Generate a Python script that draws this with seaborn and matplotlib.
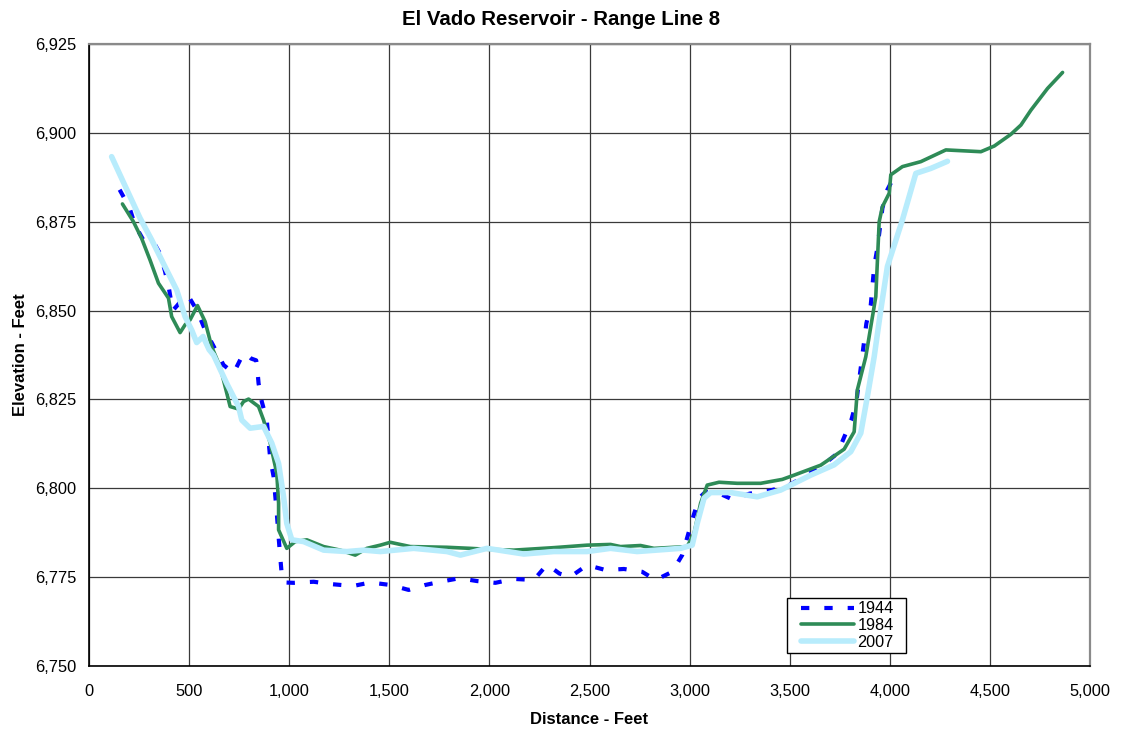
import matplotlib
matplotlib.use("Agg")
import matplotlib.pyplot as plt
import seaborn as sns
import pandas as pd
from matplotlib.ticker import MultipleLocator, FuncFormatter
from matplotlib.patches import Rectangle

# ---------------- data ----------------
x_1944 = [153, 202, 230, 270, 320, 355, 380, 400, 418, 442, 470, 497, 540, 580, 622, 672, 722, 763, 780, 810, 835, 840, 847, 863, 888, 905, 922, 938, 947, 955, 963, 975, 1022, 1122, 1218, 1318, 1405, 1505, 1597, 1680, 1755, 1850, 1938, 2030, 2122, 2222, 2272, 2290, 2350, 2405, 2488, 2580, 2672, 2763, 2830, 2913, 2963, 2992, 3018, 3047, 3080, 3150, 3213, 3300, 3397, 3488, 3580, 3663, 3738, 3808, 3833, 3858, 3883, 3905, 3922, 3938, 3963, 3988, 4030]
y_1944 = [6884, 6879, 6874, 6870, 6869.5, 6866, 6861, 6856, 6850, 6851.5, 6853.5, 6854, 6850, 6844.5, 6840, 6834.7, 6832.4, 6837, 6838, 6836.5, 6836, 6834, 6829.5, 6824.4, 6819.2, 6808.4, 6803.3, 6793, 6786.4, 6780.8, 6775.6, 6773.5, 6773.4, 6773.7, 6773, 6772.5, 6773.5, 6772.8, 6771.4, 6772.8, 6773.7, 6774.7, 6773.9, 6773.4, 6774.5, 6774.2, 6777.5, 6778.5, 6776, 6775.1, 6778.4, 6777, 6777.3, 6776.5, 6774.2, 6776.5, 6781.2, 6786.9, 6792, 6797.2, 6799, 6798.5, 6796.9, 6798.5, 6799.3, 6800.6, 6803.5, 6806.4, 6809.8, 6819.2, 6824.4, 6835.2, 6846.4, 6851.6, 6862.4, 6867.6, 6878.8, 6884, 6888.6]

x_1984 = [167, 222, 263, 305, 347, 397, 413, 455, 480, 505, 542, 580, 613, 655, 705, 747, 772, 797, 847, 872, 905, 938, 947, 947, 988, 1030, 1088, 1172, 1255, 1330, 1388, 1455, 1505, 1605, 1788, 1905, 2000, 2122, 2322, 2488, 2605, 2655, 2755, 2822, 2988, 3022, 3055, 3088, 3147, 3238, 3355, 3463, 3522, 3655, 3772, 3822, 3838, 3880, 3930, 3947, 3963, 3997, 4005, 4063, 4155, 4280, 4455, 4522, 4605, 4655, 4705, 4788, 4863]
y_1984 = [6880, 6875, 6870.3, 6864.2, 6857.7, 6853.5, 6848.3, 6843.8, 6846, 6847.4, 6851.4, 6846.9, 6839.8, 6834.2, 6823, 6822.3, 6824.4, 6825.1, 6823, 6819.2, 6812.7, 6804.2, 6795.8, 6788.3, 6783.1, 6785, 6785.5, 6783.6, 6782.6, 6781.2, 6783.1, 6784, 6784.8, 6783.6, 6783.4, 6783.1, 6782.8, 6782.6, 6783.3, 6784, 6784.2, 6783.6, 6783.9, 6783.1, 6783.6, 6787.3, 6795.8, 6800.9, 6801.7, 6801.4, 6801.4, 6802.5, 6803.7, 6806.5, 6811, 6815.9, 6827.7, 6837, 6853.9, 6875, 6879.2, 6883, 6888.2, 6890.5, 6891.9, 6895.2, 6894.7, 6896.3, 6899.6, 6902.2, 6906.4, 6912.5, 6917]

x_2007 = [113, 167, 255, 313, 380, 438, 480, 513, 538, 570, 600, 622, 688, 747, 763, 805, 872, 913, 947, 972, 988, 1013, 1072, 1172, 1288, 1372, 1455, 1622, 1788, 1855, 1988, 2172, 2322, 2488, 2605, 2738, 2955, 3013, 3038, 3072, 3105, 3205, 3338, 3455, 3605, 3722, 3805, 3855, 3888, 3922, 3955, 3988, 4063, 4130, 4205, 4288]
y_2007 = [6893.3, 6886.7, 6876, 6869.9, 6862.3, 6855.8, 6848.3, 6844.5, 6841, 6842.7, 6839, 6837.5, 6829.5, 6823, 6819.2, 6816.9, 6817.4, 6812.7, 6807, 6797.6, 6790.1, 6785.5, 6785, 6782.6, 6782.2, 6782.6, 6782.2, 6783.1, 6782.2, 6781.2, 6783.1, 6781.5, 6782.2, 6782.2, 6783.1, 6782.2, 6783.1, 6784, 6790.1, 6797.2, 6798.8, 6798.8, 6797.6, 6799.5, 6803.7, 6806.6, 6810.3, 6815.5, 6825.8, 6837, 6850.2, 6862.4, 6875.5, 6888.6, 6890, 6892]

series_names = ["1944", "1984", "2007"]
x_ticks = [0, 500, 1000, 1500, 2000, 2500, 3000, 3500, 4000, 4500, 5000]
y_ticks = [6750, 6775, 6800, 6825, 6850, 6875, 6900, 6925]

title = "El Vado Reservoir - Range Line 8"
x_label = "Distance - Feet"
y_label = "Elevation - Feet"

# ---------------- plot ----------------
sns.set_style("white")
plt.rcParams["font.family"] = ["Liberation Sans", "DejaVu Sans"]
plt.rcParams["text.color"] = "black"
plt.rcParams["axes.labelcolor"] = "black"
plt.rcParams["xtick.color"] = "black"
plt.rcParams["ytick.color"] = "black"

fig = plt.figure(figsize=(11.23, 7.31), dpi=100)
ax = fig.add_axes([89 / 1123, 65 / 731, 1001 / 1123, 622 / 731])

df44 = pd.DataFrame({"x": x_1944, "y": y_1944})
df84 = pd.DataFrame({"x": x_1984, "y": y_1984})
df07 = pd.DataFrame({"x": x_2007, "y": y_2007})

sns.lineplot(data=df44, x="x", y="y", ax=ax, sort=False, estimator=None,
             color="#0000FF", linewidth=3.0, label=series_names[0], zorder=3)
ax.lines[-1].set_dashes((2.0, 3.6))
sns.lineplot(data=df84, x="x", y="y", ax=ax, sort=False, estimator=None,
             color="#2E8B57", linewidth=2.6, label=series_names[1], zorder=4)
sns.lineplot(data=df07, x="x", y="y", ax=ax, sort=False, estimator=None,
             color="#B8ECFC", linewidth=4.0, label=series_names[2], zorder=5)

ax.set_xlim(0, 5000)
ax.set_ylim(6750, 6925)
ax.set_xticks(x_ticks)
ax.set_yticks(y_ticks)
ax.xaxis.set_minor_locator(MultipleLocator(100))
ax.yaxis.set_minor_locator(MultipleLocator(5))
fmt = FuncFormatter(lambda v, p: f"{int(round(v)):,}")
ax.xaxis.set_major_formatter(fmt)
ax.yaxis.set_major_formatter(fmt)

ax.grid(True, which="major", color="#3a3a3a", linewidth=0.9)
ax.set_axisbelow(True)

ax.tick_params(axis="both", which="major", direction="out", length=5, width=1,
               labelsize=11.8, colors="black")
ax.tick_params(axis="both", which="minor", direction="in", length=4, width=1,
               colors="black")
ax.tick_params(axis="x", which="major", pad=8)
ax.tick_params(axis="y", which="major", pad=4)

for s in ["left", "bottom"]:
    ax.spines[s].set_color("black")
    ax.spines[s].set_linewidth(1.2)
for s in ["top", "right"]:
    ax.spines[s].set_color("#8a8a8a")
    ax.spines[s].set_linewidth(1.6)

ax.set_title(title, fontsize=14.7, fontweight="bold", pad=14,
             x=(561.5 - 89) / 1001, color="black")
ax.set_xlabel(x_label, fontsize=12, fontweight="bold", labelpad=9, color="black")
ax.set_ylabel(y_label, fontsize=12, fontweight="bold", labelpad=5, color="black")

# legend box
lx, ly, lw, lh = 0.697, 0.021, 0.119, 0.088
ax.add_patch(Rectangle((lx, ly), lw, lh, transform=ax.transAxes,
                       facecolor="white", edgecolor="black", linewidth=1.0,
                       zorder=9))
leg = ax.legend(loc="center", bbox_to_anchor=(lx + lw / 2 + 0.001, ly + lh / 2),
                fontsize=11.7, frameon=False,
                handlelength=3.3, handletextpad=0.2, labelspacing=0.1,
                borderpad=0.0, borderaxespad=0)
for t in leg.get_texts():
    t.set_color("black")
leg.set_zorder(10)

fig.savefig("out.png", dpi=100)
